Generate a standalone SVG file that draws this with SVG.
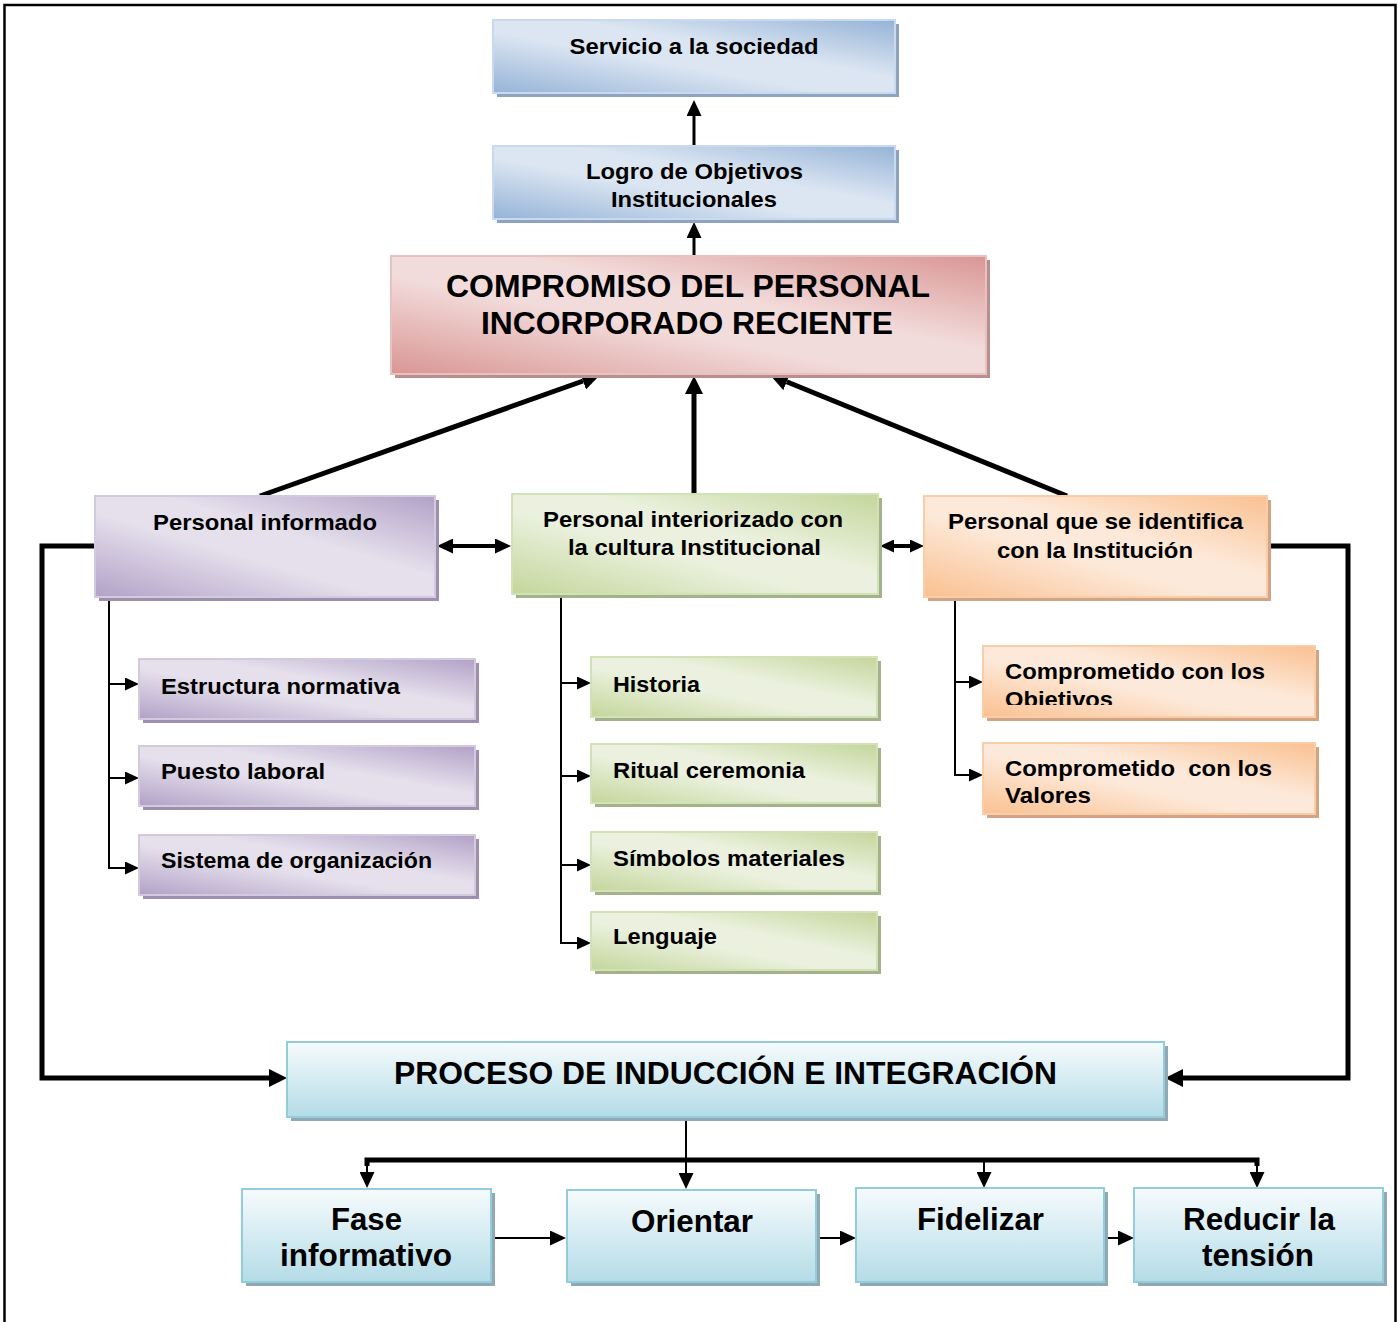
<svg xmlns="http://www.w3.org/2000/svg" width="1398" height="1322" viewBox="0 0 1398 1322">
  <defs>
    <style>
      text { font-family: "Liberation Sans", Arial, sans-serif; font-weight: bold; fill: #000; }
      .t22 { font-size: 22px; }
      .t31 { font-size: 31px; }
      .t32 { font-size: 32px; }
      .mid { text-anchor: middle; }
      .sh-blue { fill: #8ea3bf; }
      .sh-red { fill: #b98f8e; }
      .sh-purple { fill: #9d90ae; }
      .sh-green { fill: #a3b28a; }
      .sh-orange { fill: #d2a484; }
      .sh-cyan { fill: #90a9b2; }
      .bx-blue { fill: url(#gBlue); stroke: #c9d9ee; stroke-width: 2; }
      .bx-red { fill: url(#gRed); stroke: #e8c2c1; stroke-width: 2; }
      .bx-purple { fill: url(#gPurple); stroke: #d3cae0; stroke-width: 2; }
      .bx-green { fill: url(#gGreen); stroke: #d3e2b6; stroke-width: 2; }
      .bx-orange { fill: url(#gOrange); stroke: #f9cda8; stroke-width: 2; }
      .bx-cyan { fill: url(#gCyan); stroke: #93cddd; stroke-width: 2; }
      .thick { fill: none; stroke: #000; stroke-width: 5; stroke-linejoin: miter; }
      .mid3 { fill: none; stroke: #000; stroke-width: 3; }
      .dbl { fill: none; stroke: #000; stroke-width: 4; }
      .thin { fill: none; stroke: #000; stroke-width: 2; }
    </style>
    <linearGradient id="gBlue" x1="0" y1="1" x2="1" y2="0">
      <stop offset="0" stop-color="#95b3d7"/>
      <stop offset="0.42" stop-color="#dce6f2"/>
      <stop offset="0.6" stop-color="#dce6f2"/>
      <stop offset="1" stop-color="#95b3d7"/>
    </linearGradient>
    <linearGradient id="gRed" x1="0" y1="1" x2="1" y2="0">
      <stop offset="0" stop-color="#d99694"/>
      <stop offset="0.42" stop-color="#f2dcdb"/>
      <stop offset="0.6" stop-color="#f2dcdb"/>
      <stop offset="1" stop-color="#d99694"/>
    </linearGradient>
    <linearGradient id="gPurple" x1="0" y1="1" x2="1" y2="0">
      <stop offset="0" stop-color="#b2a1c7"/>
      <stop offset="0.42" stop-color="#e5e0ec"/>
      <stop offset="0.6" stop-color="#e5e0ec"/>
      <stop offset="1" stop-color="#b2a1c7"/>
    </linearGradient>
    <linearGradient id="gGreen" x1="0" y1="1" x2="1" y2="0">
      <stop offset="0" stop-color="#c3d69b"/>
      <stop offset="0.42" stop-color="#ebf1de"/>
      <stop offset="0.6" stop-color="#ebf1de"/>
      <stop offset="1" stop-color="#c3d69b"/>
    </linearGradient>
    <linearGradient id="gOrange" x1="0" y1="1" x2="1" y2="0">
      <stop offset="0" stop-color="#fac090"/>
      <stop offset="0.42" stop-color="#fde9d9"/>
      <stop offset="0.6" stop-color="#fde9d9"/>
      <stop offset="1" stop-color="#fac090"/>
    </linearGradient>
    <linearGradient id="gCyan" x1="0" y1="0" x2="0" y2="1">
      <stop offset="0" stop-color="#f6fbfd"/>
      <stop offset="1" stop-color="#b4dce7"/>
    </linearGradient>
    <marker id="ahL" markerUnits="userSpaceOnUse" viewBox="0 0 18 18" markerWidth="18" markerHeight="18" refX="0" refY="9" orient="auto-start-reverse">
      <path d="M0,0 L18,9 L0,18 z" fill="#000"/>
    </marker>
    <marker id="ahM" markerUnits="userSpaceOnUse" viewBox="0 0 16 15" markerWidth="16" markerHeight="15" refX="0" refY="7.5" orient="auto-start-reverse">
      <path d="M0,0 L16,7.5 L0,15 z" fill="#000"/>
    </marker>
    <marker id="ahS" markerUnits="userSpaceOnUse" viewBox="0 0 14 13" markerWidth="14" markerHeight="13" refX="0" refY="6.5" orient="auto-start-reverse">
      <path d="M0,0 L14,6.5 L0,13 z" fill="#000"/>
    </marker>
    <clipPath id="clipObj">
      <rect x="990" y="650" width="320" height="55"/>
    </clipPath>
  </defs>

  <rect width="1398" height="1322" fill="#fff"/>
  <!-- page frame -->
  <path d="M4.5,1322 V5 H1395.5 V1322" fill="none" stroke="#000" stroke-width="2.5"/>

  <!-- connectors -->
  <g id="connectors">
    <path class="mid3" d="M694,146 V116" marker-end="url(#ahM)"/>
    <path class="mid3" d="M694,255 V238" marker-end="url(#ahM)"/>
    <path class="thick" d="M694,494 V394" marker-end="url(#ahL)"/>
    <path class="thick" d="M260,496 L583,381" marker-end="url(#ahL)"/>
    <path class="thick" d="M1067,496 L786.7,381.8" marker-end="url(#ahL)"/>
    <path class="dbl" d="M453,546 H495" marker-start="url(#ahM)" marker-end="url(#ahM)"/>
    <path class="dbl" d="M894,546 H910" marker-start="url(#ahS)" marker-end="url(#ahS)"/>
    <path class="thick" d="M95,546 H42 V1078 H269" marker-end="url(#ahL)"/>
    <path class="thick" d="M1267,546 H1348 V1078 H1183" marker-end="url(#ahL)"/>

    <!-- purple branch -->
    <path class="thin" d="M109,598 V868"/>
    <path class="thin" d="M108,684 H125" marker-end="url(#ahS)"/>
    <path class="thin" d="M108,778 H125" marker-end="url(#ahS)"/>
    <path class="thin" d="M108,868 H125" marker-end="url(#ahS)"/>
    <!-- green branch -->
    <path class="thin" d="M561,594 V943"/>
    <path class="thin" d="M560,683 H577" marker-end="url(#ahS)"/>
    <path class="thin" d="M560,776 H577" marker-end="url(#ahS)"/>
    <path class="thin" d="M560,865 H577" marker-end="url(#ahS)"/>
    <path class="thin" d="M560,943 H577" marker-end="url(#ahS)"/>
    <!-- orange branch -->
    <path class="thin" d="M955,597 V775"/>
    <path class="thin" d="M954,682 H969" marker-end="url(#ahS)"/>
    <path class="thin" d="M954,775 H969" marker-end="url(#ahS)"/>

    <!-- induction process fan-out -->
    <path class="thin" d="M686,1117 V1173" marker-end="url(#ahM)"/>
    <path class="thick" d="M367,1166 V1160 H1257 V1166"/>
    <path class="thin" d="M367,1160 V1172" marker-end="url(#ahM)"/>
    <path class="thin" d="M984,1160 V1172" marker-end="url(#ahM)"/>
    <path class="thin" d="M1257,1160 V1172" marker-end="url(#ahM)"/>
    <path class="thin" d="M492,1238 H550" marker-end="url(#ahM)"/>
    <path class="thin" d="M817,1238 H840" marker-end="url(#ahM)"/>
    <path class="thin" d="M1105,1238 H1118" marker-end="url(#ahM)"/>
  </g>

  <g id="servicio">
    <rect class="sh-blue" x="497" y="24" width="402" height="73"/>
    <rect class="bx-blue" x="493" y="20" width="402" height="73"/>
    <text class="t22 mid" x="694" y="54" textLength="249" lengthAdjust="spacingAndGlyphs">Servicio a la sociedad</text>
  </g>

  <g id="logro">
    <rect class="sh-blue" x="497" y="150" width="402" height="73"/>
    <rect class="bx-blue" x="493" y="146" width="402" height="73"/>
    <text class="t22 mid" x="694.5" y="179" textLength="217" lengthAdjust="spacingAndGlyphs">Logro de Objetivos</text>
    <text class="t22 mid" x="694" y="207" textLength="166" lengthAdjust="spacingAndGlyphs">Institucionales</text>
  </g>

  <g id="compromiso">
    <rect class="sh-red" x="395" y="260" width="595" height="118"/>
    <rect class="bx-red" x="391" y="256" width="595" height="118"/>
    <text class="t31 mid" x="688" y="297" textLength="484" lengthAdjust="spacingAndGlyphs">COMPROMISO DEL PERSONAL</text>
    <text class="t31 mid" x="687" y="334" textLength="412" lengthAdjust="spacingAndGlyphs">INCORPORADO RECIENTE</text>
  </g>

  <g id="informado">
    <rect class="sh-purple" x="99" y="500" width="340" height="101"/>
    <rect class="bx-purple" x="95" y="496" width="340" height="101"/>
    <text class="t22 mid" x="265" y="530" textLength="224" lengthAdjust="spacingAndGlyphs">Personal informado</text>
  </g>

  <g id="interiorizado">
    <rect class="sh-green" x="516" y="498" width="366" height="100"/>
    <rect class="bx-green" x="512" y="494" width="366" height="100"/>
    <text class="t22 mid" x="693" y="527" textLength="300" lengthAdjust="spacingAndGlyphs">Personal interiorizado con</text>
    <text class="t22 mid" x="694.5" y="555" textLength="253" lengthAdjust="spacingAndGlyphs">la cultura Institucional</text>
  </g>

  <g id="identifica">
    <rect class="sh-orange" x="928" y="500" width="343" height="101"/>
    <rect class="bx-orange" x="924" y="496" width="343" height="101"/>
    <text class="t22 mid" x="1095.5" y="529" textLength="295" lengthAdjust="spacingAndGlyphs">Personal que se identifica</text>
    <text class="t22 mid" x="1095" y="558" textLength="196" lengthAdjust="spacingAndGlyphs">con la Institución</text>
  </g>

  <g id="estructura">
    <rect class="sh-purple" x="143" y="663" width="336" height="60"/>
    <rect class="bx-purple" x="139" y="659" width="336" height="60"/>
    <text class="t22" x="161" y="694" textLength="239" lengthAdjust="spacingAndGlyphs">Estructura normativa</text>
  </g>
  <g id="puesto">
    <rect class="sh-purple" x="143" y="750" width="336" height="60"/>
    <rect class="bx-purple" x="139" y="746" width="336" height="60"/>
    <text class="t22" x="161" y="779" textLength="164" lengthAdjust="spacingAndGlyphs">Puesto laboral</text>
  </g>
  <g id="sistema">
    <rect class="sh-purple" x="143" y="839" width="336" height="60"/>
    <rect class="bx-purple" x="139" y="835" width="336" height="60"/>
    <text class="t22" x="161" y="868" textLength="271" lengthAdjust="spacingAndGlyphs">Sistema de organización</text>
  </g>

  <g id="historia">
    <rect class="sh-green" x="595" y="661" width="286" height="60"/>
    <rect class="bx-green" x="591" y="657" width="286" height="60"/>
    <text class="t22" x="613" y="692" textLength="87" lengthAdjust="spacingAndGlyphs">Historia</text>
  </g>
  <g id="ritual">
    <rect class="sh-green" x="595" y="748" width="286" height="59"/>
    <rect class="bx-green" x="591" y="744" width="286" height="59"/>
    <text class="t22" x="613" y="778" textLength="192" lengthAdjust="spacingAndGlyphs">Ritual ceremonia</text>
  </g>
  <g id="simbolos">
    <rect class="sh-green" x="595" y="836" width="286" height="59"/>
    <rect class="bx-green" x="591" y="832" width="286" height="59"/>
    <text class="t22" x="613" y="866" textLength="232" lengthAdjust="spacingAndGlyphs">Símbolos materiales</text>
  </g>
  <g id="lenguaje">
    <rect class="sh-green" x="595" y="916" width="286" height="58"/>
    <rect class="bx-green" x="591" y="912" width="286" height="58"/>
    <text class="t22" x="613" y="944" textLength="104" lengthAdjust="spacingAndGlyphs">Lenguaje</text>
  </g>

  <g id="objetivos">
    <rect class="sh-orange" x="987" y="650" width="332" height="71"/>
    <rect class="bx-orange" x="983" y="646" width="332" height="71"/>
    <g clip-path="url(#clipObj)">
      <text class="t22" x="1005" y="679" textLength="260" lengthAdjust="spacingAndGlyphs">Comprometido con los</text>
      <text class="t22" x="1005" y="707" textLength="108" lengthAdjust="spacingAndGlyphs">Objetivos</text>
    </g>
  </g>
  <g id="valores">
    <rect class="sh-orange" x="987" y="747" width="332" height="71"/>
    <rect class="bx-orange" x="983" y="743" width="332" height="71"/>
    <text class="t22" x="1005" y="776" textLength="267" lengthAdjust="spacingAndGlyphs" xml:space="preserve">Comprometido  con los</text>
    <text class="t22" x="1005" y="803" textLength="86" lengthAdjust="spacingAndGlyphs">Valores</text>
  </g>

  <g id="proceso">
    <rect class="sh-cyan" x="291" y="1046" width="877" height="75"/>
    <rect class="bx-cyan" x="287" y="1042" width="877" height="75"/>
    <text class="t31 mid" x="725.5" y="1084" textLength="663" lengthAdjust="spacingAndGlyphs">PROCESO DE INDUCCIÓN E INTEGRACIÓN</text>
  </g>

  <g id="fase">
    <rect class="sh-cyan" x="246" y="1193" width="249" height="93"/>
    <rect class="bx-cyan" x="242" y="1189" width="249" height="93"/>
    <text class="t32 mid" x="366.5" y="1230" textLength="71" lengthAdjust="spacingAndGlyphs">Fase</text>
    <text class="t32 mid" x="366" y="1266" textLength="172" lengthAdjust="spacingAndGlyphs">informativo</text>
  </g>
  <g id="orientar">
    <rect class="sh-cyan" x="571" y="1194" width="249" height="92"/>
    <rect class="bx-cyan" x="567" y="1190" width="249" height="92"/>
    <text class="t32 mid" x="692" y="1232" textLength="122" lengthAdjust="spacingAndGlyphs">Orientar</text>
  </g>
  <g id="fidelizar">
    <rect class="sh-cyan" x="860" y="1192" width="248" height="94"/>
    <rect class="bx-cyan" x="856" y="1188" width="248" height="94"/>
    <text class="t32 mid" x="980.5" y="1230" textLength="127" lengthAdjust="spacingAndGlyphs">Fidelizar</text>
  </g>
  <g id="reducir">
    <rect class="sh-cyan" x="1138" y="1192" width="249" height="94"/>
    <rect class="bx-cyan" x="1134" y="1188" width="249" height="94"/>
    <text class="t32 mid" x="1259" y="1230" textLength="152" lengthAdjust="spacingAndGlyphs">Reducir la</text>
    <text class="t32 mid" x="1258" y="1266" textLength="112" lengthAdjust="spacingAndGlyphs">tensión</text>
  </g>
</svg>
